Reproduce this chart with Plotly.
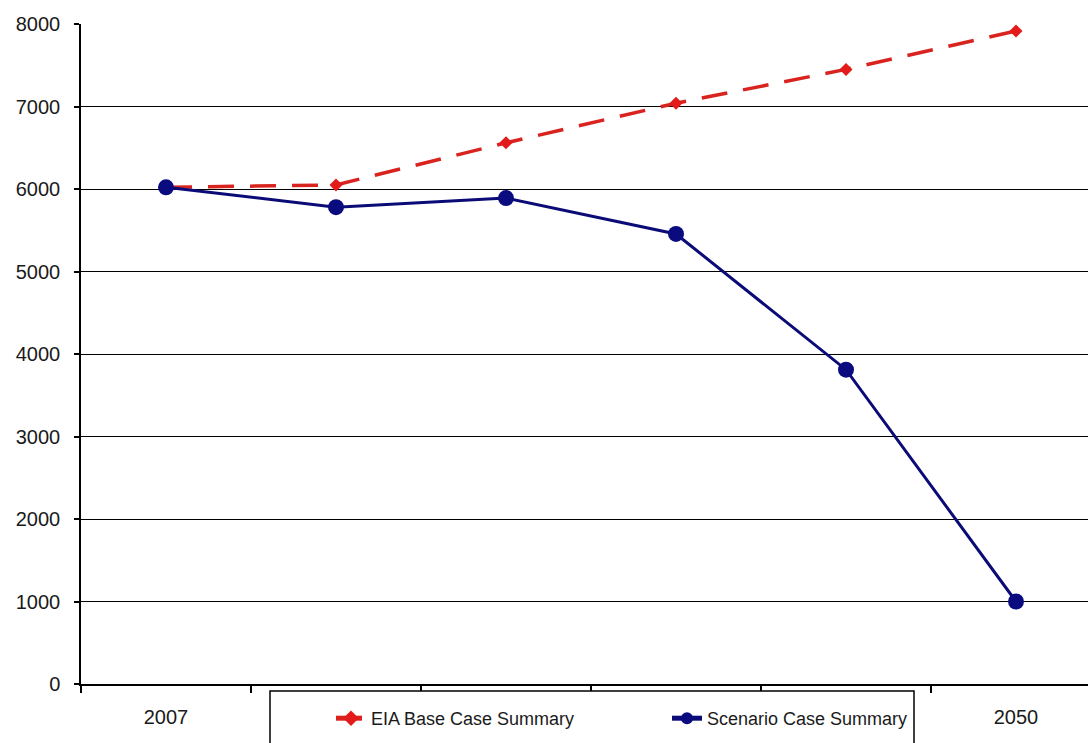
import plotly.graph_objects as go

# Six evenly spaced periods; only the first and last carry a label
periods = [0, 1, 2, 3, 4, 5]
tick_positions = [0, 5]
tick_labels = ["2007", "2050"]

eia_base = [6020, 6050, 6560, 7040, 7450, 7915]
scenario = [6020, 5780, 5890, 5455, 3810, 1000]

W, H = 1088, 743
L, R, T, B = 81, 0, 24, 59
plot_w = W - L - R
plot_h = H - T - B

def px_x(x):
    return (x - L) / plot_w

def px_y(y):
    return (H - B - y) / plot_h

fig = go.Figure()

fig.add_trace(go.Scatter(
    x=periods, y=eia_base, name="EIA Base Case Summary",
    mode="lines+markers",
    line=dict(color="#d9231f", width=3.5, dash="26px,16px"),
    marker=dict(symbol="diamond", size=10, color="#e31b1b"),
))
fig.add_trace(go.Scatter(
    x=periods, y=scenario, name="Scenario Case Summary",
    mode="lines+markers",
    line=dict(color="#0b0b78", width=3),
    marker=dict(symbol="circle", size=16, color="#0b0b80"),
))

# Legend frame, running off the bottom edge
fig.add_shape(type="rect", xref="paper", yref="paper",
              x0=px_x(270), x1=px_x(914), y0=px_y(691), y1=px_y(780),
              line=dict(color="black", width=1.5), fillcolor="white",
              layer="above")

fig.update_layout(
    width=W, height=H,
    margin=dict(l=L, r=R, t=T, b=B),
    paper_bgcolor="white", plot_bgcolor="white",
    font=dict(family="Liberation Sans, Arial, sans-serif", color="#1a1a1a"),
    showlegend=True,
    legend=dict(
        orientation="h",
        x=px_x(331), xanchor="left",
        y=px_y(700), yanchor="top",
        bgcolor="rgba(0,0,0,0)", borderwidth=0,
        font=dict(size=18, color="#1a1a1a"),
        entrywidth=291, entrywidthmode="pixels",
        itemsizing="constant",
    ),
    xaxis=dict(
        range=[-0.5, -0.5 + plot_w / 170.0],
        tickmode="array", tickvals=tick_positions, ticktext=tick_labels,
        ticks="", showgrid=False, zeroline=False,
        showline=True, linecolor="black", linewidth=1.5,
        tickfont=dict(size=20), ticklabelstandoff=14,
        minor=dict(tickmode="array",
                   tickvals=[p - 0.5 for p in periods] + [5.5],
                   ticks="outside", ticklen=7, tickcolor="black",
                   tickwidth=1.5, showgrid=False),
        fixedrange=True,
    ),
    yaxis=dict(
        range=[0, 8000], dtick=1000,
        showgrid=True, gridcolor="black", gridwidth=1,
        zeroline=False,
        showline=True, linecolor="black", linewidth=1.5,
        ticks="outside", ticklen=5, tickcolor="black", tickwidth=1.5,
        tickfont=dict(size=20), ticklabelstandoff=10,
        fixedrange=True,
    ),
)

fig.write_html("out.html")
